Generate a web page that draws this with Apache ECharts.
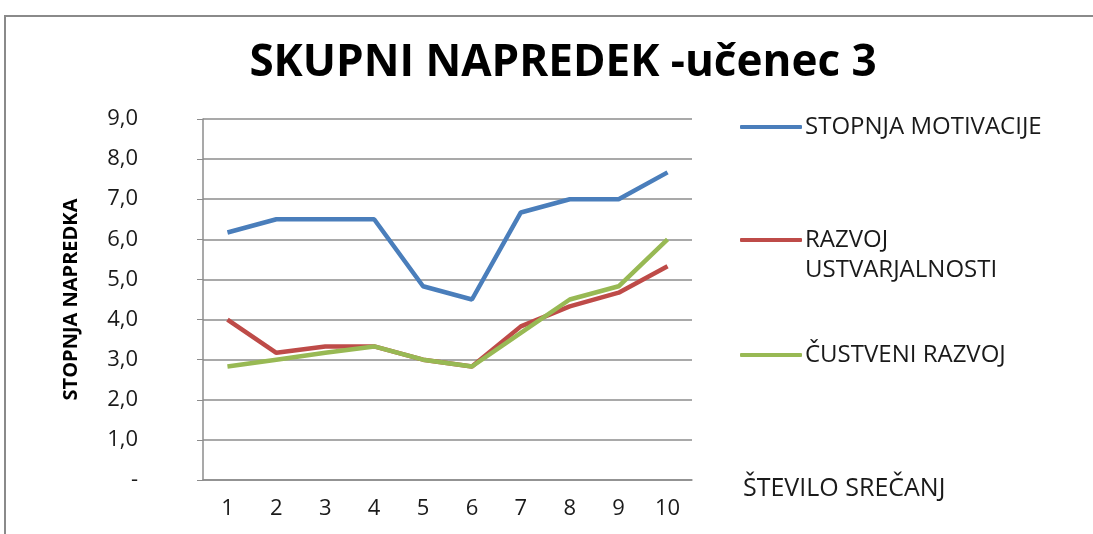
<!DOCTYPE html>
<html>
<head>
<meta charset="utf-8">
<script src="https://cdn.jsdelivr.net/npm/echarts@6/dist/echarts.min.js"></script>
<style>
  html, body { margin: 0; padding: 0; background: #fff; }
  #chart { width: 1093px; height: 534px; }
</style>
</head>
<body>
<div id="chart"></div>
<script>
// srečanja 1..10
var categories = ['1', '2', '3', '4', '5', '6', '7', '8', '9', '10'];
var motivacija = [6.17, 6.5, 6.5, 6.5, 4.83, 4.5, 6.67, 7.0, 7.0, 7.67];
var ustvarjalnost = [4.0, 3.17, 3.33, 3.33, 3.0, 2.83, 3.83, 4.33, 4.67, 5.33];
var custveni = [2.83, 3.0, 3.17, 3.33, 3.0, 2.83, 3.67, 4.5, 4.83, 6.0];
var seriesNames = ['STOPNJA MOTIVACIJE', 'RAZVOJ USTVARJALNOSTI', 'ČUSTVENI RAZVOJ'];
var colors = ['#4a7ebb', '#be4b48', '#98b954'];

var font = 'Open Sans';
var chart = echarts.init(document.getElementById('chart'));

function legendFor(i, top) {
  return {
    data: [seriesNames[i]],
    left: 740,
    top: top,
    icon: 'roundRect',
    itemWidth: 62,
    itemHeight: 4,
    itemGap: 0,
    padding: 0,
    textStyle: { fontFamily: font, fontSize: 24, color: '#1a1a1a', lineHeight: 30, padding: [0, 0, 0, -2] },
    formatter: function (name) {
      if (name === 'RAZVOJ USTVARJALNOSTI') return '\nRAZVOJ\nUSTVARJALNOSTI';
      return name;
    }
  };
}

chart.setOption({
  animation: false,
  backgroundColor: '#fff',
  title: {
    text: 'SKUPNI NAPREDEK -učenec 3',
    left: 558,
    top: 36,
    textAlign: 'center',
    textStyle: { fontFamily: font, fontWeight: 'bold', fontSize: 44, color: '#000' }
  },
  graphic: [{
    type: 'rect',
    shape: { x: 5, y: 16, width: 1200, height: 600 },
    style: { fill: 'none', stroke: '#8a8a8a', lineWidth: 2 },
    silent: true
  }],
  legend: [legendFor(0, 112), legendFor(1, 195), legendFor(2, 340)],
  grid: { left: 203, right: 401, top: 119, bottom: 54 },
  xAxis: {
    type: 'category',
    data: categories,
    boundaryGap: true,
    name: 'ŠTEVILO SREČANJ',
    nameLocation: 'end',
    nameGap: 51,
    nameTextStyle: { fontFamily: font, fontSize: 25, color: '#1a1a1a', align: 'left', verticalAlign: 'top', padding: [-4, 0, 0, 0] },
    axisLine: { lineStyle: { color: '#8c8c8c', width: 1.5 } },
    axisTick: { show: false },
    axisLabel: { fontFamily: font, fontSize: 22, color: '#1a1a1a', margin: 18 }
  },
  yAxis: {
    type: 'value',
    min: 0,
    max: 9,
    interval: 1,
    name: 'STOPNJA NAPREDKA',
    nameLocation: 'middle',
    nameGap: 122,
    nameRotate: 90,
    nameTextStyle: { fontFamily: font, fontSize: 20, fontWeight: 'bold', color: '#000' },
    axisLine: { show: true, lineStyle: { color: '#8c8c8c', width: 1.5 } },
    axisTick: { show: true, length: 6, lineStyle: { color: '#8c8c8c' } },
    splitLine: { lineStyle: { color: '#8c8c8c', width: 1.5 } },
    axisLabel: {
      fontFamily: font, fontSize: 22, color: '#1a1a1a', margin: 65, align: 'right',
      formatter: function (v) { return v === 0 ? '-' : v.toFixed(1).replace('.', ','); }
    }
  },
  series: [
    { name: seriesNames[0], type: 'line', data: motivacija, symbol: 'none', lineStyle: { color: colors[0], width: 4.5 }, itemStyle: { color: colors[0] } },
    { name: seriesNames[1], type: 'line', data: ustvarjalnost, symbol: 'none', lineStyle: { color: colors[1], width: 4.5 }, itemStyle: { color: colors[1] } },
    { name: seriesNames[2], type: 'line', data: custveni, symbol: 'none', lineStyle: { color: colors[2], width: 4.5 }, itemStyle: { color: colors[2] } }
  ]
});
</script>
</body>
</html>
